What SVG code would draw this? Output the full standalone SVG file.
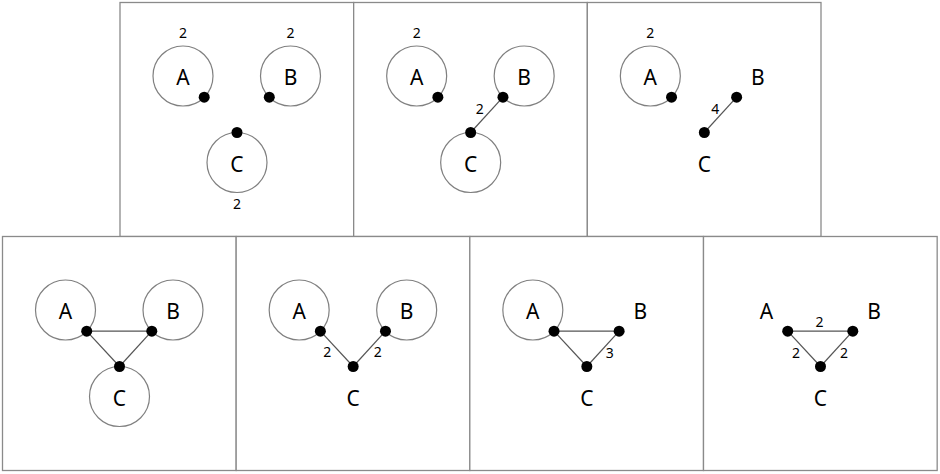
<svg xmlns="http://www.w3.org/2000/svg" width="940" height="474" viewBox="0 0 940 474">
<style>
.panel{fill:#fff;stroke:#8a8a8a;stroke-width:1.3}
.ring{fill:none;stroke:#808080;stroke-width:1.2}
.dot{fill:#000}
.edge{stroke:#555;stroke-width:1.2}
.lbl{font-family:"Noto Sans","DejaVu Sans",sans-serif;font-size:21px;fill:#000;text-anchor:middle}
.num{font-family:"Noto Sans","DejaVu Sans",sans-serif;font-size:14px;fill:#000;text-anchor:middle}
</style>
<rect width="940" height="474" fill="#fff"/>

<!-- Panel 1 -->
<g id="panel1" transform="translate(120,2.5)">
<rect class="panel" x="0" y="0" width="233.67" height="234"/>
<g id="p1-A"><circle class="ring" cx="63" cy="73.5" r="30"/><text class="lbl" x="63" y="82.5">A</text><text class="num" x="63" y="35.5">2</text><circle class="dot" cx="84.2" cy="94.7" r="5.5"/></g>
<g id="p1-B"><circle class="ring" cx="170.5" cy="73.5" r="30"/><text class="lbl" x="170.5" y="82.5">B</text><text class="num" x="170.5" y="35.5">2</text><circle class="dot" cx="149.3" cy="94.7" r="5.5"/></g>
<g id="p1-C"><circle class="ring" cx="117" cy="160" r="30"/><text class="lbl" x="117" y="169">C</text><text class="num" x="117" y="206.5">2</text><circle class="dot" cx="117" cy="130" r="5.5"/></g>
</g>

<!-- Panel 2 -->
<g id="panel2" transform="translate(353.67,2.5)">
<rect class="panel" x="0" y="0" width="233.67" height="234"/>
<g id="p2-edges"><line class="edge" x1="149.3" y1="94.7" x2="117" y2="130"/><text class="num" x="126" y="111">2</text></g>
<g id="p2-A"><circle class="ring" cx="63" cy="73.5" r="30"/><text class="lbl" x="63" y="82.5">A</text><text class="num" x="63" y="35.5">2</text><circle class="dot" cx="84.2" cy="94.7" r="5.5"/></g>
<g id="p2-B"><circle class="ring" cx="170.5" cy="73.5" r="30"/><text class="lbl" x="170.5" y="82.5">B</text><circle class="dot" cx="149.3" cy="94.7" r="5.5"/></g>
<g id="p2-C"><circle class="ring" cx="117" cy="160" r="30"/><text class="lbl" x="117" y="169">C</text><circle class="dot" cx="117" cy="130" r="5.5"/></g>
</g>

<!-- Panel 3 -->
<g id="panel3" transform="translate(587.33,2.5)">
<rect class="panel" x="0" y="0" width="233.67" height="234"/>
<g id="p3-edges"><line class="edge" x1="149.3" y1="94.7" x2="117" y2="130"/><text class="num" x="128" y="111">4</text></g>
<g id="p3-A"><circle class="ring" cx="63" cy="73.5" r="30"/><text class="lbl" x="63" y="82.5">A</text><text class="num" x="63" y="35.5">2</text><circle class="dot" cx="84.2" cy="94.7" r="5.5"/></g>
<g id="p3-B"><text class="lbl" x="170.5" y="82.5">B</text><circle class="dot" cx="149.3" cy="94.7" r="5.5"/></g>
<g id="p3-C"><text class="lbl" x="117" y="169">C</text><circle class="dot" cx="117" cy="130" r="5.5"/></g>
</g>

<!-- Panel 4 -->
<g id="panel4" transform="translate(2.5,236.5)">
<rect class="panel" x="0" y="0" width="233.67" height="234"/>
<g id="p4-edges"><line class="edge" x1="84.2" y1="94.7" x2="149.3" y2="94.7"/><line class="edge" x1="84.2" y1="94.7" x2="117" y2="130"/><line class="edge" x1="149.3" y1="94.7" x2="117" y2="130"/></g>
<g id="p4-A"><circle class="ring" cx="63" cy="73.5" r="30"/><text class="lbl" x="63" y="82.5">A</text><circle class="dot" cx="84.2" cy="94.7" r="5.5"/></g>
<g id="p4-B"><circle class="ring" cx="170.5" cy="73.5" r="30"/><text class="lbl" x="170.5" y="82.5">B</text><circle class="dot" cx="149.3" cy="94.7" r="5.5"/></g>
<g id="p4-C"><circle class="ring" cx="117" cy="160" r="30"/><text class="lbl" x="117" y="169">C</text><circle class="dot" cx="117" cy="130" r="5.5"/></g>
</g>

<!-- Panel 5 -->
<g id="panel5" transform="translate(236.17,236.5)">
<rect class="panel" x="0" y="0" width="233.67" height="234"/>
<g id="p5-edges"><line class="edge" x1="84.2" y1="94.7" x2="117" y2="130"/><line class="edge" x1="149.3" y1="94.7" x2="117" y2="130"/><text class="num" x="91" y="120">2</text><text class="num" x="141.5" y="120">2</text></g>
<g id="p5-A"><circle class="ring" cx="63" cy="73.5" r="30"/><text class="lbl" x="63" y="82.5">A</text><circle class="dot" cx="84.2" cy="94.7" r="5.5"/></g>
<g id="p5-B"><circle class="ring" cx="170.5" cy="73.5" r="30"/><text class="lbl" x="170.5" y="82.5">B</text><circle class="dot" cx="149.3" cy="94.7" r="5.5"/></g>
<g id="p5-C"><text class="lbl" x="117" y="169">C</text><circle class="dot" cx="117" cy="130" r="5.5"/></g>
</g>

<!-- Panel 6 -->
<g id="panel6" transform="translate(469.83,236.5)">
<rect class="panel" x="0" y="0" width="233.67" height="234"/>
<g id="p6-edges"><line class="edge" x1="84.2" y1="94.7" x2="149.3" y2="94.7"/><line class="edge" x1="84.2" y1="94.7" x2="117" y2="130"/><line class="edge" x1="149.3" y1="94.7" x2="117" y2="130"/><text class="num" x="140" y="121">3</text></g>
<g id="p6-A"><circle class="ring" cx="63" cy="73.5" r="30"/><text class="lbl" x="63" y="82.5">A</text><circle class="dot" cx="84.2" cy="94.7" r="5.5"/></g>
<g id="p6-B"><text class="lbl" x="170.5" y="82.5">B</text><circle class="dot" cx="149.3" cy="94.7" r="5.5"/></g>
<g id="p6-C"><text class="lbl" x="117" y="169">C</text><circle class="dot" cx="117" cy="130" r="5.5"/></g>
</g>

<!-- Panel 7 -->
<g id="panel7" transform="translate(703.5,236.5)">
<rect class="panel" x="0" y="0" width="233.67" height="234"/>
<g id="p7-edges"><line class="edge" x1="84.2" y1="94.7" x2="149.3" y2="94.7"/><line class="edge" x1="84.2" y1="94.7" x2="117" y2="130"/><line class="edge" x1="149.3" y1="94.7" x2="117" y2="130"/><text class="num" x="116" y="90">2</text><text class="num" x="92.5" y="121.5">2</text><text class="num" x="140.5" y="121.5">2</text></g>
<g id="p7-A"><text class="lbl" x="63" y="82.5">A</text><circle class="dot" cx="84.2" cy="94.7" r="5.5"/></g>
<g id="p7-B"><text class="lbl" x="170.5" y="82.5">B</text><circle class="dot" cx="149.3" cy="94.7" r="5.5"/></g>
<g id="p7-C"><text class="lbl" x="117" y="169">C</text><circle class="dot" cx="117" cy="130" r="5.5"/></g>
</g>
</svg>
